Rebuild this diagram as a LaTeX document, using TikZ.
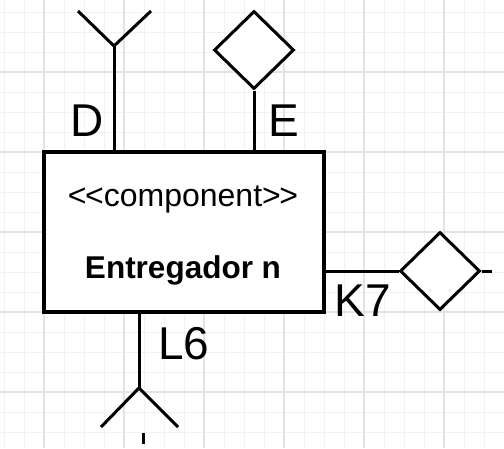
\documentclass[tikz,border=0pt]{standalone}
\usepackage{fontspec}
\setmainfont{Liberation Sans}
\usetikzlibrary{shapes.geometric}
\begin{document}
\begin{tikzpicture}[x=1pt,y=-1pt,
 port/.style={line width=3pt},
 lbl/.style={font=\fontsize{46}{46}\selectfont, inner sep=0pt},
 iface/.style={diamond, draw, line width=3pt, minimum width=80pt, minimum height=78pt, inner sep=0pt, fill=white},
 minorgrid/.style={draw=black!5, line width=1pt},
 majorgrid/.style={draw=black!11, line width=1.2pt}]
\useasboundingbox (0,0) rectangle (504,448);
\fill[white] (0,0) rectangle (504,448);
\foreach \x in {4,24,...,504} \draw[minorgrid] (\x,0) -- (\x,448);
\foreach \y in {12,32,...,448} \draw[minorgrid] (0,\y) -- (504,\y);
\foreach \x in {44,124,...,504} \draw[majorgrid] (\x,0) -- (\x,448);
\foreach \y in {72,152,...,448} \draw[majorgrid] (0,\y) -- (504,\y);

\node[draw, line width=3.5pt, minimum width=280pt, minimum height=160pt, fill=white, inner sep=0pt] (comp) at (184,232) {};
\node[font=\fontsize{32}{32}\selectfont, inner sep=0pt] (st) at (183,199) {<\kern-1.5pt<component>\kern-1.5pt>};
\node[font=\fontsize{31.5}{31.5}\selectfont\bfseries, inner sep=0pt] (nm) at (183,270) {Entregador n};

% D port
\coordinate (dj) at (114,46);
\coordinate (dl) at (78,11);
\coordinate (dr) at (151,11);
\draw[port] (comp.north -| dj) -- (dj);
\draw[port] (dl) -- (dj) -- (dr);
\node[lbl] (dlab) at (87,121) {D};

% E port
\node[iface] (edia) at (254,50) {};
\draw[port] (comp.north -| edia) -- (edia.south);
\node[lbl] (elab) at (284,121) {E};

% K7 port
\node[iface] (kdia) at (440,271) {};
\coordinate (kend) at (492,271);
\draw[port] (comp.east |- kdia) -- (kdia.west);
\draw[port] (kdia.east) -- (kend);
\node[lbl] (klab) at (363,301) {K7};

% L6 port
\coordinate (lj) at (139,388);
\coordinate (ll) at (101,427);
\coordinate (lr) at (178,427);
\draw[port] (comp.south -| lj) -- (lj);
\draw[port] (ll) -- (lj) -- (lr);
\coordinate (t1) at (143,433);
\coordinate (t2) at (143,444);
\draw[port] (t1) -- (t2);
\node[lbl] (llab) at (184,344) {L6};
\end{tikzpicture}
\end{document}
